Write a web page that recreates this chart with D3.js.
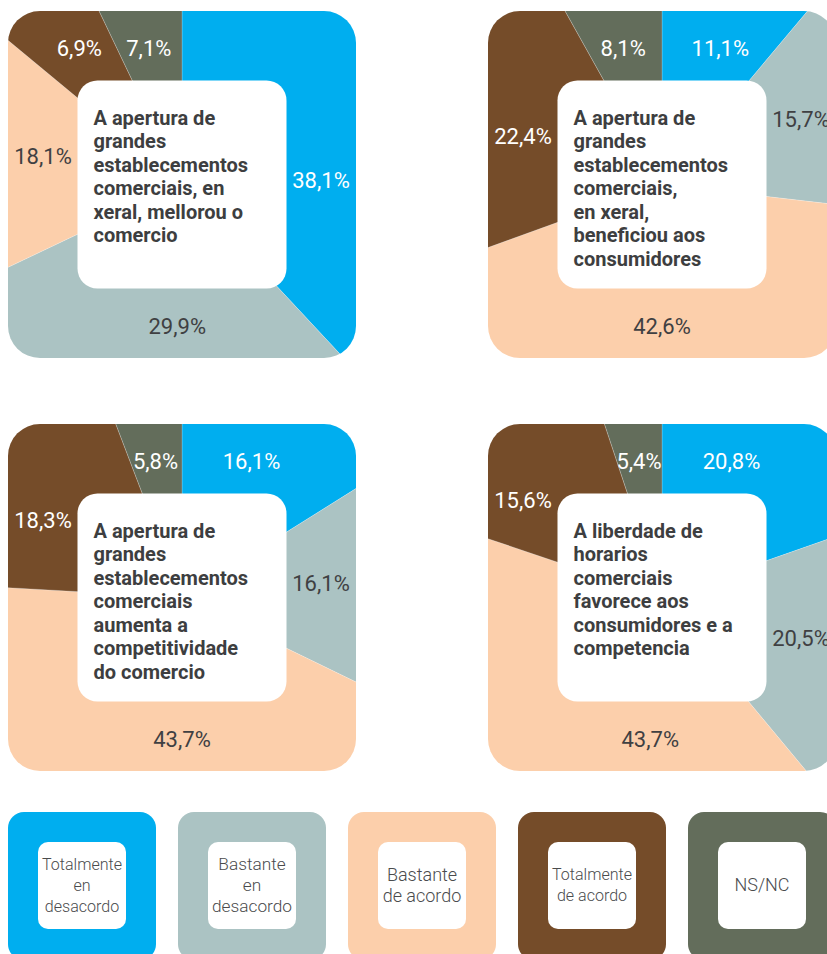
<!DOCTYPE html>
<html>
<head>
<meta charset="utf-8">
<script src="https://cdn.jsdelivr.net/npm/d3@7/dist/d3.min.js"></script>
<style>
  body { margin: 0; background: #fff; overflow: hidden; }
  text { font-family: Roboto, "Open Sans", sans-serif; }
</style>
</head>
<body>
<script>
// Categories (legend order = slice order, clockwise from 12 o'clock)
let categories = ["Totalmente en desacordo", "Bastante en desacordo", "Bastante de acordo", "Totalmente de acordo", "NS/NC"];
let legendLines = [["Totalmente", "en", "desacordo"], ["Bastante", "en", "desacordo"], ["Bastante", "de acordo"], ["Totalmente", "de acordo"], ["NS/NC"]];

// Statements (one per panel)
let statements = [
  ["A apertura de", "grandes", "establecementos", "comerciais, en", "xeral, mellorou o", "comercio"],
  ["A apertura de", "grandes", "establecementos", "comerciais,", "en xeral,", "beneficiou aos", "consumidores"],
  ["A apertura de", "grandes", "establecementos", "comerciais", "aumenta a", "competitividade", "do comercio"],
  ["A liberdade de", "horarios", "comerciais", "favorece aos", "consumidores e a", "competencia"]
];

// Percentages per panel, in category order
let values1 = [38.1, 29.9, 18.1, 6.9, 7.1];
let values2 = [11.1, 15.7, 42.6, 22.4, 8.1];
let values3 = [16.1, 16.1, 43.7, 18.3, 5.8];
let values4 = [20.8, 20.5, 43.7, 15.6, 5.4];
let panelValues = [values1, values2, values3, values4];

let width = 827, height = 954;
let color = d3.scaleOrdinal()
  .domain(categories)
  .range(["#00aeef", "#abc3c3", "#fccfab", "#754c29", "#636d5b"]);
let labelColor = d3.scaleOrdinal()
  .domain(categories)
  .range(["#ffffff", "#3f4042", "#3f4042", "#ffffff", "#ffffff"]);

let svg = d3.select("body").append("svg")
  .attr("width", width)
  .attr("height", height);

let panelW = 348, panelH = 347;
let boxW = 209, boxH = 208;
let band = 139; // half-size of the line through the middle of the coloured ring

let pie = d3.pie().sort(null).value(d => d.value);
let arc = d3.arc().innerRadius(0).outerRadius(300);
let fmt = v => d3.format(".1f")(v).replace(".", ",");

// Label position: midpoint of the longest straight piece of the ring's centre line inside the slice
function labelPos(a0, a1) {
  let deg = a => a * 180 / Math.PI;
  let pt = t => {
    let r = t * Math.PI / 180, s = Math.sin(r), c = -Math.cos(r);
    let k = band / Math.max(Math.abs(s), Math.abs(c));
    return [s * k, c * k];
  };
  // [from, to, weight] - side pieces of the square; left/right slightly preferred
  let sides = [[0, 45, 1], [45, 135, 1.06], [135, 225, 1], [225, 315, 1.06], [315, 360, 1]];
  let best = null;
  sides.forEach(function(side) {
    let lo = Math.max(deg(a0), side[0]), hi = Math.min(deg(a1), side[1]);
    if (hi <= lo) return;
    let p = pt(lo), q = pt(hi);
    let len = Math.hypot(q[0] - p[0], q[1] - p[1]) * side[2];
    if (!best || len > best.len) best = { len: len, x: (p[0] + q[0]) / 2, y: (p[1] + q[1]) / 2 };
  });
  return [best.x, best.y];
}

panelValues.forEach(function(values, i) {
  let col = i % 2, row = Math.floor(i / 2);
  let cx = 8 + col * 480 + panelW / 2;
  let cy = 11 + row * 413 + panelH / 2;

  let g = svg.append("g").attr("transform", "translate(" + cx + "," + cy + ")");

  g.append("clipPath").attr("id", "clip" + i)
    .append("rect")
      .attr("x", -panelW / 2).attr("y", -panelH / 2)
      .attr("width", panelW).attr("height", panelH)
      .attr("rx", 32);

  let slices = pie(categories.map((c, j) => ({ category: c, value: values[j] })));

  g.append("g").attr("clip-path", "url(#clip" + i + ")")
    .selectAll("path")
    .data(slices)
    .enter().append("path")
      .attr("d", arc)
      .style("fill", d => color(d.data.category))
      .style("stroke", "#fff")
      .style("stroke-opacity", 0.35)
      .style("stroke-width", 0.6);

  g.append("rect")
    .attr("x", -boxW / 2).attr("y", -boxH / 2)
    .attr("width", boxW).attr("height", boxH)
    .attr("rx", 20)
    .style("fill", "#fff");

  g.selectAll(".pct")
    .data(slices)
    .enter().append("text")
      .attr("class", "pct")
      .attr("transform", d => {
        let p = labelPos(d.startAngle, d.endAngle);
        return "translate(" + p[0] + "," + (p[1] + (Math.abs(p[1]) > 130 ? 3 : -4)) + ")";
      })
      .attr("text-anchor", "middle")
      .attr("dy", "0.35em")
      .style("font-size", "22px")
      .style("font-weight", 400)
      .style("fill", d => labelColor(d.data.category))
      .text(d => fmt(d.data.value) + "%");

  let title = g.append("text")
    .attr("x", -boxW / 2 + 16)
    .attr("y", -boxH / 2 + 44)
    .style("font-size", "20px")
    .style("font-weight", 700)
    .style("fill", "#3d3e40");
  title.selectAll("tspan")
    .data(statements[i])
    .enter().append("tspan")
      .attr("x", -boxW / 2 + 16)
      .attr("dy", (d, k) => k ? 23.5 : 0)
      .text(d => d);
});

// Legend
let legend = svg.selectAll(".legend")
  .data(categories)
  .enter().append("g")
    .attr("class", "legend")
    .attr("transform", (d, i) => "translate(" + (8 + i * 170 + 74) + "," + (812 + 74) + ")");

legend.append("rect")
  .attr("x", -74).attr("y", -74)
  .attr("width", 148).attr("height", 148)
  .attr("rx", 16)
  .style("fill", d => color(d));

legend.append("rect")
  .attr("x", -44).attr("y", -44)
  .attr("width", 88).attr("height", 87)
  .attr("rx", 10)
  .style("fill", "#fff");

legend.each(function(d, i) {
  let lines = legendLines[i];
  let t = d3.select(this).append("text")
    .attr("text-anchor", "middle")
    .style("font-size", "18px")
    .style("font-weight", 300)
    .style("fill", "#4a4b4d");
  t.selectAll("tspan")
    .data(lines)
    .enter().append("tspan")
      .attr("x", 0)
      .attr("y", (l, k) => (k - (lines.length - 1) / 2) * 21 - 1)
      .attr("dy", "0.35em")
      .text(l => l);
  let w = d3.max(t.selectAll("tspan").nodes(), n => n.getComputedTextLength());
  if (w > 80) t.style("font-size", (18 * 80 / w) + "px");
});
</script>
</body>
</html>
